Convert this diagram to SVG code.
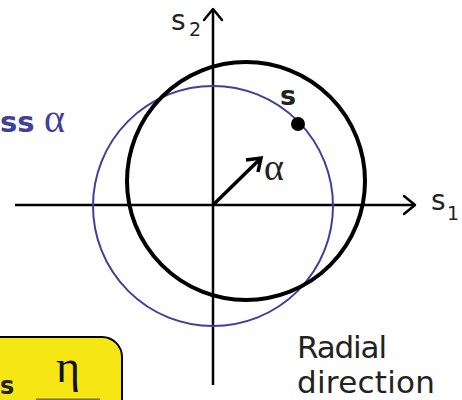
<svg xmlns="http://www.w3.org/2000/svg" width="462" height="400" viewBox="0 0 462 400">
<defs>
<style>
.ax{stroke:#000;stroke-width:2.5;fill:none}
.chev{stroke:#000;stroke-width:2.5;fill:none;stroke-linecap:round;stroke-linejoin:round}
.lbl{font-family:"DejaVu Sans","Open Sans",sans-serif;fill:#222}
.greek{font-family:"Liberation Serif","DejaVu Serif",serif}
</style>
</defs>
<rect x="-30" y="337" width="152" height="100" rx="20" ry="20" fill="#f5e614" stroke="#000" stroke-width="2"/>
<line x1="36" y1="399.5" x2="100" y2="399.5" stroke="#7a7030" stroke-width="2"/>
<text x="0" y="394" class="lbl" font-size="24" font-weight="bold" fill="#111">s</text>
<text x="56" y="382" class="greek" font-size="46" fill="#111">η</text>
<text x="0" y="132" class="lbl" font-size="29" font-weight="bold" style="fill:#3f3f9c">ss</text>
<text x="44" y="132" class="greek" font-size="40" fill="#3f3f9c">α</text>
<g id="connectors">
<line class="ax" x1="15" y1="205" x2="415" y2="205"/>
<polyline class="chev" points="404,196 415,205 404,214"/>
<line class="ax" x1="213" y1="385" x2="213" y2="9"/>
<polyline class="chev" points="204,20 213,9 222,20"/>
<line x1="213" y1="205" x2="259" y2="160" stroke="#000" stroke-width="3.5"/>
<polyline points="246,160 261,158 258,172" fill="none" stroke="#000" stroke-width="3.5" stroke-linejoin="miter"/>
</g>
<g id="circle-blue"><circle cx="213" cy="206" r="120" fill="none" stroke="#3f3f9c" stroke-width="2"/></g>
<g id="circle-black"><circle cx="246" cy="181" r="119" fill="none" stroke="#000" stroke-width="4"/></g>
<g id="point-s">
<circle cx="298" cy="124" r="7" fill="#000"/>
<text x="280" y="105" class="lbl" font-size="27" font-weight="bold" fill="#111">s</text>
</g>
<text x="264" y="180" class="greek" font-size="38" fill="#222">α</text>
<text x="171" y="30" class="lbl" font-size="28">s</text>
<text x="189" y="36" class="lbl" font-size="19">2</text>
<text x="431" y="210" class="lbl" font-size="28">s</text>
<text x="447" y="220" class="lbl" font-size="19">1</text>
<text x="297" y="358" class="lbl" font-size="31" textLength="90">Radial</text>
<text x="297" y="393" class="lbl" font-size="31" textLength="138">direction</text>
</svg>
